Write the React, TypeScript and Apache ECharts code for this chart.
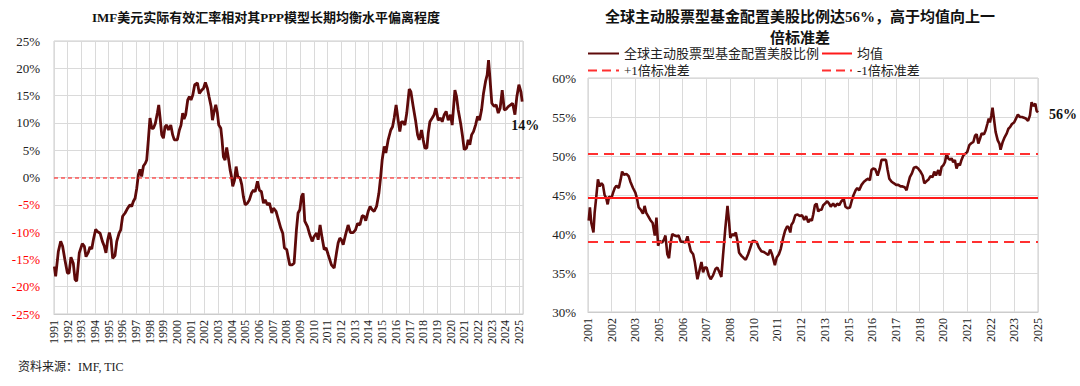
import React, { useEffect, useRef } from "react";
import * as echarts from "echarts";

// ---------- Left chart: IMF USD REER deviation from PPP equilibrium (%) ----------
const imfYears = [
  1991.03, 1991.12, 1991.32, 1991.49, 1991.63, 1991.8, 1991.98, 1992.1, 1992.24, 1992.41,
  1992.54, 1992.66, 1992.85, 1993.07, 1993.22, 1993.34, 1993.51, 1993.63, 1993.76, 1993.88,
  1994.05, 1994.17, 1994.37, 1994.54, 1994.68, 1994.8, 1994.93, 1995.05, 1995.17, 1995.29,
  1995.46, 1995.59, 1995.76, 1995.88, 1996.02, 1996.2, 1996.39, 1996.56, 1996.68, 1996.8,
  1996.93, 1997.05, 1997.17, 1997.29, 1997.41, 1997.54, 1997.68, 1997.78, 1997.9, 1998.02,
  1998.15, 1998.27, 1998.41, 1998.56, 1998.66, 1998.76, 1998.88, 1999.0, 1999.12, 1999.24,
  1999.37, 1999.54, 1999.68, 1999.8, 2000.02, 2000.17, 2000.29, 2000.41, 2000.51, 2000.63,
  2000.78, 2000.9, 2001.02, 2001.15, 2001.29, 2001.49, 2001.63, 2001.8, 2001.93, 2002.07,
  2002.22, 2002.34, 2002.49, 2002.59, 2002.71, 2002.83, 2002.95, 2003.05, 2003.2, 2003.29,
  2003.39, 2003.51, 2003.63, 2003.76, 2003.88, 2004.0, 2004.07, 2004.2, 2004.32, 2004.44,
  2004.61, 2004.73, 2004.85, 2004.98, 2005.15, 2005.29, 2005.44, 2005.59, 2005.71, 2005.88,
  2006.02, 2006.17, 2006.32, 2006.44, 2006.61, 2006.76, 2006.93, 2007.05, 2007.24, 2007.41,
  2007.59, 2007.73, 2007.85, 2008.02, 2008.24, 2008.41, 2008.56, 2008.73, 2008.85, 2008.98,
  2009.1, 2009.22, 2009.34, 2009.54, 2009.71, 2009.88, 2010.02, 2010.2, 2010.32, 2010.46,
  2010.61, 2010.76, 2010.9, 2011.05, 2011.29, 2011.49, 2011.66, 2011.78, 2011.9, 2012.02,
  2012.15, 2012.32, 2012.51, 2012.68, 2012.88, 2013.05, 2013.2, 2013.37, 2013.54, 2013.68,
  2013.8, 2013.98, 2014.12, 2014.27, 2014.41, 2014.59, 2014.76, 2014.88, 2015.0, 2015.15,
  2015.27, 2015.44, 2015.63, 2015.76, 2015.88, 2016.02, 2016.17, 2016.29, 2016.41, 2016.54,
  2016.66, 2016.8, 2016.98, 2017.1, 2017.27, 2017.44, 2017.59, 2017.71, 2017.88, 2018.0,
  2018.12, 2018.27, 2018.37, 2018.49, 2018.66, 2018.8, 2018.93, 2019.1, 2019.27, 2019.39,
  2019.54, 2019.68, 2019.83, 2020.0, 2020.12, 2020.32, 2020.44, 2020.56, 2020.76, 2020.88,
  2021.0, 2021.17, 2021.29, 2021.41, 2021.54, 2021.68, 2021.83, 2021.98, 2022.12, 2022.27,
  2022.41, 2022.56, 2022.68, 2022.78, 2022.9, 2023.02, 2023.2, 2023.34, 2023.49, 2023.63,
  2023.78, 2023.93, 2024.07, 2024.22, 2024.39, 2024.54, 2024.71, 2024.85, 2025.0, 2025.15,
  2025.24,
];
const imfDeviation = [
  -16.3, -18.1, -13.5, -11.7, -12.6, -15.1, -17.5, -17.5, -14.6, -15.7,
  -18.7, -19.0, -13.8, -12.1, -12.6, -14.5, -13.7, -12.7, -13.1, -11.4,
  -9.5, -9.9, -10.2, -11.7, -12.6, -13.8, -11.4, -10.1, -11.4, -14.8,
  -14.3, -11.7, -10.2, -9.6, -7.1, -6.5, -5.6, -5.0, -5.3, -4.4,
  -3.8, -2.0, 0.5, 1.5, 0.2, 2.1, 2.6, 3.2, 6.9, 10.9,
  9.0, 9.0, 9.9, 11.8, 13.3, 10.9, 7.8, 7.2, 9.3, 9.6,
  8.7, 9.6, 7.8, 6.9, 6.9, 8.7, 9.6, 11.8, 10.7, 11.5,
  14.2, 14.8, 14.2, 15.1, 17.0, 17.3, 15.4, 16.0, 16.3, 17.4,
  16.3, 14.8, 13.0, 10.5, 12.1, 13.3, 11.8, 9.6, 9.0, 6.9,
  3.8, 3.2, 5.5, 3.5, 1.4, -0.1, -1.6, -0.5, 2.0, 0.2,
  -0.1, -1.3, -3.5, -5.0, -4.7, -4.1, -2.9, -2.3, -2.6, -0.7,
  -2.3, -2.6, -4.7, -4.1, -5.0, -4.7, -6.5, -5.6, -6.2, -7.7,
  -9.3, -10.2, -12.9, -13.2, -16.0, -16.0, -15.7, -9.6, -6.5, -5.9,
  -3.5, -2.9, -8.0, -9.0, -10.5, -11.7, -10.8, -10.2, -11.4, -8.7,
  -11.1, -13.2, -12.9, -14.1, -16.0, -16.6, -13.8, -12.0, -11.1, -11.4,
  -12.3, -10.5, -8.7, -10.1, -10.1, -9.6, -8.4, -8.7, -7.0, -7.1,
  -7.9, -6.2, -5.3, -5.9, -6.2, -5.3, -2.9, -0.1, 3.2, 5.7,
  4.5, 6.9, 8.7, 9.3, 10.9, 13.3, 10.5, 8.4, 10.2, 10.2,
  9.6, 11.8, 16.2, 15.7, 13.0, 10.5, 7.8, 6.9, 8.7, 6.9,
  5.4, 5.4, 8.1, 10.2, 10.9, 11.5, 12.7, 10.5, 10.9, 10.2,
  11.5, 12.1, 10.5, 11.5, 9.6, 16.0, 14.8, 12.4, 9.6, 7.5,
  5.1, 5.4, 6.9, 6.0, 7.8, 8.4, 9.6, 11.2, 10.5, 12.4,
  15.4, 17.6, 18.8, 21.5, 17.6, 13.6, 13.0, 13.3, 11.8, 12.7,
  16.0, 12.4, 12.5, 13.0, 13.3, 13.6, 11.5, 14.8, 17.0, 15.7,
  13.9,
];
const imfReferenceLevel = 0;

// ---------- Right chart: share of US equities in global active equity funds (%) ----------
const allocTickLabels = [
  "2001", "2002", "2003", "2005", "2006", "2007", "2008", "2010", "2011", "2012",
  "2013", "2015", "2016", "2017", "2018", "2020", "2021", "2022", "2023", "2025",
];
// position along the axis, in units of tick-label steps
const allocPos = [
  0.03, 0.08, 0.14, 0.23, 0.28, 0.35, 0.42, 0.49, 0.56, 0.63,
  0.7, 0.77, 0.83, 0.89, 0.99, 1.06, 1.13, 1.2, 1.3, 1.38,
  1.44, 1.52, 1.62, 1.72, 1.79, 1.9, 2.0, 2.08, 2.14, 2.23,
  2.32, 2.39, 2.46, 2.54, 2.63, 2.73, 2.82, 2.89, 2.96, 3.03,
  3.13, 3.21, 3.27, 3.35, 3.42, 3.49, 3.56, 3.66, 3.75, 3.83,
  3.92, 4.01, 4.11, 4.2, 4.27, 4.34, 4.44, 4.51, 4.62, 4.72,
  4.79, 4.86, 4.93, 5.01, 5.1, 5.18, 5.28, 5.38, 5.46, 5.55,
  5.63, 5.7, 5.8, 5.89, 5.96, 6.01, 6.1, 6.17, 6.24, 6.31,
  6.38, 6.48, 6.58, 6.66, 6.76, 6.86, 6.94, 7.04, 7.13, 7.21,
  7.32, 7.42, 7.52, 7.61, 7.69, 7.77, 7.89, 7.97, 8.06, 8.14,
  8.24, 8.32, 8.41, 8.48, 8.54, 8.59, 8.66, 8.75, 8.85, 8.94,
  9.04, 9.13, 9.21, 9.3, 9.38, 9.45, 9.51, 9.58, 9.65, 9.72,
  9.79, 9.86, 9.93, 10.01, 10.1, 10.18, 10.25, 10.35, 10.44, 10.52,
  10.61, 10.7, 10.8, 10.87, 10.96, 11.06, 11.13, 11.2, 11.3, 11.37,
  11.45, 11.55, 11.65, 11.73, 11.83, 11.9, 11.97, 12.04, 12.13, 12.23,
  12.32, 12.39, 12.49, 12.58, 12.65, 12.72, 12.82, 12.92, 13.0, 13.1,
  13.2, 13.28, 13.37, 13.45, 13.52, 13.59, 13.68, 13.76, 13.85, 13.94,
  14.04, 14.13, 14.2, 14.3, 14.38, 14.46, 14.55, 14.62, 14.69, 14.79,
  14.86, 14.93, 15.0, 15.07, 15.14, 15.21, 15.28, 15.35, 15.42, 15.49,
  15.56, 15.63, 15.7, 15.77, 15.85, 15.93, 16.01, 16.1, 16.17, 16.27,
  16.34, 16.41, 16.48, 16.55, 16.62, 16.72, 16.79, 16.86, 16.92, 16.97,
  17.03, 17.08, 17.14, 17.21, 17.3, 17.37, 17.42, 17.51, 17.59, 17.68,
  17.75, 17.82, 17.9, 17.99, 18.07, 18.15, 18.24, 18.32, 18.41, 18.49,
  18.58, 18.66, 18.73, 18.8, 18.89, 18.94, 19.0,
];
const allocShare = [
  41.7, 43.4, 41.4, 40.2, 42.7, 44.8, 47.0, 46.1, 46.5, 46.3,
  45.0, 44.6, 43.8, 44.8, 44.6, 45.3, 45.9, 46.2, 45.9, 47.0,
  48.0, 47.6, 47.7, 47.4, 46.7, 45.9, 45.3, 44.4, 43.4, 43.1,
  42.6, 43.6, 42.7, 42.3, 41.8, 41.4, 39.8, 42.1, 38.5, 39.1,
  38.9, 39.3, 39.8, 37.4, 36.9, 38.9, 40.0, 39.8, 39.7, 39.8,
  39.0, 39.0, 38.9, 39.7, 38.7, 37.8, 37.4, 36.4, 34.2, 35.5,
  36.4, 35.1, 35.7, 35.7, 34.7, 34.2, 34.7, 35.5, 35.7, 35.1,
  34.5, 37.2, 40.8, 43.6, 41.4, 39.5, 40.0, 39.8, 40.2, 39.1,
  37.6, 37.2, 36.9, 36.7, 37.4, 38.3, 39.1, 39.1, 38.9, 38.3,
  37.8, 37.7, 37.5, 37.3, 38.0, 37.4, 36.0, 37.0, 37.4, 38.1,
  39.5, 40.4, 41.0, 40.8, 40.2, 41.2, 41.5, 42.4, 42.5, 42.3,
  42.4, 41.8, 42.3, 41.5, 41.9, 41.7, 42.5, 43.7, 43.9, 42.9,
  43.1, 43.1, 43.7, 43.9, 44.2, 43.9, 43.5, 43.9, 43.5, 43.9,
  43.7, 44.2, 44.5, 43.5, 43.3, 43.4, 44.2, 44.9, 45.6, 45.9,
  45.6, 46.3, 46.7, 46.9, 47.1, 46.9, 48.2, 48.4, 48.3, 47.5,
  48.4, 49.5, 49.5, 49.5, 48.2, 47.1, 46.7, 46.5, 46.3, 46.3,
  46.1, 46.1, 46.0, 45.6, 46.5, 47.3, 47.8, 48.5, 48.6, 48.4,
  48.0, 47.5, 46.5, 46.8, 47.0, 47.4, 47.3, 48.0, 47.5, 48.2,
  47.5, 48.6, 48.8, 49.2, 50.3, 49.7, 49.5, 49.7, 49.2, 49.5,
  48.4, 49.0, 48.8, 49.5, 50.1, 50.3, 50.5, 51.4, 51.6, 51.8,
  52.6, 52.8, 51.6, 52.2, 52.9, 52.8, 53.3, 54.1, 54.8, 54.3,
  55.2, 56.2, 54.8, 53.1, 52.0, 51.6, 50.8, 51.8, 52.4, 52.9,
  53.5, 53.7, 54.1, 54.3, 54.8, 55.3, 55.0, 55.0, 54.9, 54.8,
  54.5, 55.2, 56.9, 56.4, 56.7, 55.8, 55.6,
];
const allocMean = 44.66;
const allocPlusStd = 50.34;
const allocMinusStd = 38.98;

const SERIF = "'Times New Roman', 'Liberation Serif', 'Noto Sans CJK SC', serif";
const TEXT = "#222222";
const GRIDLINE = "#dadada";
const LINE_DARK = "#5e0a0a";
const ZERO_RED = "#ff3030";

export default function App() {
  const ref = useRef<HTMLDivElement>(null);

  useEffect(() => {
    if (!ref.current) return;
    const chart = echarts.init(ref.current, null, { renderer: "svg" });

    const imfData = imfYears.map((y, i) => [y, imfDeviation[i]]);
    const allocData = allocPos.map((p, i) => [p, allocShare[i]]);
    const imfLast = imfDeviation[imfDeviation.length - 1];
    const allocLast = allocShare[allocShare.length - 1];

    const seriesNameMain = "全球主动股票型基金配置美股比例";

    const axisCommonX = {
      axisLine: { show: true, onZero: false, lineStyle: { color: "#cccccc" } },
      axisTick: { show: false },
      splitLine: { show: true, lineStyle: { color: GRIDLINE, width: 1 } },
    };
    const axisCommonY = {
      axisLine: { show: false },
      axisTick: { show: false },
      splitLine: { show: true, lineStyle: { color: GRIDLINE, width: 1 } },
    };

    const legendCommon = {
      orient: "vertical",
      top: 47,
      itemHeight: 14,
      itemGap: 4,
      padding: 0,
      itemStyle: { color: "transparent", borderWidth: 0, opacity: 0 },
      textStyle: { fontFamily: SERIF, fontSize: 13, color: TEXT },
    };

    chart.setOption({
      animation: false,
      textStyle: { fontFamily: SERIF },
      graphic: [
        {
          type: "text",
          x: 266,
          y: 17,
          style: {
            text: "IMF美元实际有效汇率相对其PPP模型长期均衡水平偏离程度",
            fontFamily: SERIF,
            fontSize: 13,
            fontWeight: "bold",
            fill: "#111",
            align: "center",
            verticalAlign: "middle",
          },
        },
        {
          type: "text",
          x: 800,
          y: 17,
          style: {
            text: "全球主动股票型基金配置美股比例达56%，高于均值向上一",
            fontFamily: SERIF,
            fontSize: 15,
            fontWeight: "bold",
            fill: "#111",
            align: "center",
            verticalAlign: "middle",
          },
        },
        {
          type: "text",
          x: 800,
          y: 38,
          style: {
            text: "倍标准差",
            fontFamily: SERIF,
            fontSize: 15,
            fontWeight: "bold",
            fill: "#111",
            align: "center",
            verticalAlign: "middle",
          },
        },
        {
          type: "text",
          x: 18,
          y: 367,
          style: {
            text: "资料来源：IMF, TIC",
            fontFamily: SERIF,
            fontSize: 12,
            fill: TEXT,
            align: "left",
            verticalAlign: "middle",
          },
        },
      ],
      legend: [
        {
          ...legendCommon,
          left: 587,
          itemWidth: 31,
          data: [seriesNameMain, "+1倍标准差"],
        },
        {
          ...legendCommon,
          left: 821,
          itemWidth: 30,
          data: ["均值", "-1倍标准差"],
        },
      ],
      grid: [
        {
          left: 54,
          right: 557,
          top: 41,
          bottom: 72,
          show: true,
          borderColor: "#cccccc",
          borderWidth: 1,
        },
        {
          left: 588,
          right: 42,
          top: 78,
          bottom: 74,
          show: true,
          borderColor: "#cccccc",
          borderWidth: 1,
        },
      ],
      xAxis: [
        {
          gridIndex: 0,
          type: "value",
          min: 1991,
          max: 2025.3,
          interval: 1,
          ...axisCommonX,
          axisLabel: {
            rotate: 90,
            fontFamily: SERIF,
            fontSize: 12,
            color: TEXT,
            margin: 6,
            showMaxLabel: true,
            formatter: (v: number) => (Number.isInteger(v) ? String(v) : ""),
          },
        },
        {
          gridIndex: 1,
          type: "value",
          min: 0,
          max: allocTickLabels.length - 1,
          interval: 1,
          ...axisCommonX,
          axisLabel: {
            rotate: 90,
            fontFamily: SERIF,
            fontSize: 12,
            color: TEXT,
            margin: 6,
            formatter: (v: number) => allocTickLabels[v] ?? "",
          },
        },
      ],
      yAxis: [
        {
          gridIndex: 0,
          type: "value",
          min: -25,
          max: 25,
          interval: 5,
          ...axisCommonY,
          axisLabel: {
            fontFamily: SERIF,
            fontSize: 13,
            margin: 14,
            formatter: "{value}%",
            color: (v: any) => (Number(v) < 0 ? "#ff0000" : TEXT),
          },
        },
        {
          gridIndex: 1,
          type: "value",
          min: 30,
          max: 60,
          interval: 5,
          ...axisCommonY,
          axisLabel: {
            fontFamily: SERIF,
            fontSize: 13,
            margin: 12,
            formatter: "{value}%",
            color: TEXT,
          },
        },
      ],
      series: [
        {
          name: "zero",
          type: "line",
          xAxisIndex: 0,
          yAxisIndex: 0,
          data: [],
          symbol: "none",
          silent: true,
          lineStyle: { color: ZERO_RED, width: 1.5, type: [4, 3] },
          itemStyle: { color: ZERO_RED },
          markLine: {
            silent: true,
            symbol: "none",
            label: { show: false },
            lineStyle: { color: ZERO_RED, type: [4, 3], width: 1.5, opacity: 0.8 },
            data: [{ yAxis: imfReferenceLevel }],
          },
          z: 5,
        },
        {
          name: "IMF",
          type: "line",
          xAxisIndex: 0,
          yAxisIndex: 0,
          data: imfData,
          symbol: "none",
          showSymbol: false,
          lineStyle: { color: LINE_DARK, width: 2.8 },
          itemStyle: { color: LINE_DARK },
          endLabel: {
            show: true,
            formatter: () => `${Math.round(imfLast)}%`,
            fontFamily: SERIF,
            fontSize: 14,
            fontWeight: "bold",
            color: "#111",
            offset: [-19, 24],
          },
          z: 3,
        },
        {
          name: seriesNameMain,
          type: "line",
          xAxisIndex: 1,
          yAxisIndex: 1,
          data: allocData,
          symbol: "none",
          showSymbol: false,
          lineStyle: { color: LINE_DARK, width: 2.6 },
          itemStyle: { color: LINE_DARK },
          endLabel: {
            show: true,
            formatter: () => `${Math.round(allocLast)}%`,
            fontFamily: SERIF,
            fontSize: 14,
            fontWeight: "bold",
            color: "#111",
            offset: [3, 2],
          },
          z: 4,
        },
        {
          name: "均值",
          type: "line",
          xAxisIndex: 1,
          yAxisIndex: 1,
          data: [],
          symbol: "none",
          lineStyle: { color: "#ff1a1a", width: 2 },
          itemStyle: { color: "#ff1a1a" },
          markLine: {
            silent: true,
            symbol: "none",
            label: { show: false },
            lineStyle: { color: "#ff1a1a", type: "solid", width: 2 },
            data: [{ yAxis: allocMean }],
          },
        },
        {
          name: "+1倍标准差",
          type: "line",
          xAxisIndex: 1,
          yAxisIndex: 1,
          data: [],
          symbol: "none",
          lineStyle: { color: "#ff3030", width: 2, type: [9, 5] },
          itemStyle: { color: "#ff3030" },
          markLine: {
            silent: true,
            symbol: "none",
            label: { show: false },
            lineStyle: { color: "#ff3030", type: [10, 6], width: 2 },
            data: [{ yAxis: allocPlusStd }],
          },
        },
        {
          name: "-1倍标准差",
          type: "line",
          xAxisIndex: 1,
          yAxisIndex: 1,
          data: [],
          symbol: "none",
          lineStyle: { color: "#ff3030", width: 2, type: [9, 5] },
          itemStyle: { color: "#ff3030" },
          markLine: {
            silent: true,
            symbol: "none",
            label: { show: false },
            lineStyle: { color: "#ff3030", type: [10, 6], width: 2 },
            data: [{ yAxis: allocMinusStd }],
          },
        },
      ],
    });

    return () => {
      chart.dispose();
    };
  }, []);

  return (
    <div
      ref={ref}
      style={{ position: "absolute", left: 0, top: 0, width: 1080, height: 386, background: "#ffffff" }}
    />
  );
}
